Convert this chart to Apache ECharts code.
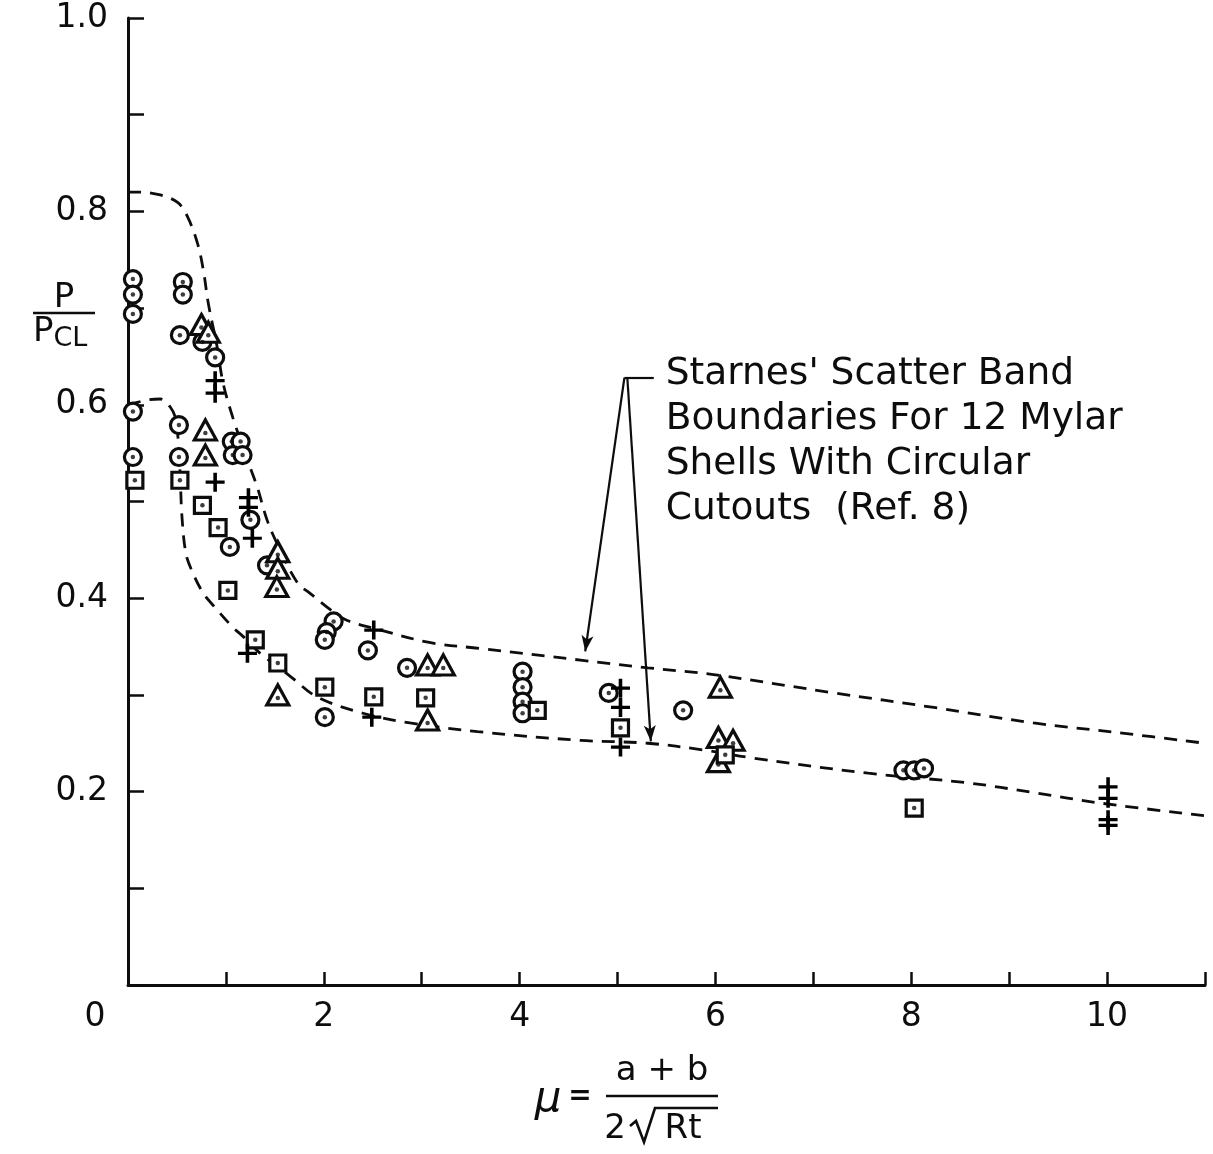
<!DOCTYPE html>
<html><head><meta charset="utf-8">
<script src="https://cdn.jsdelivr.net/npm/echarts@6/dist/echarts.min.js"></script>
<style>html,body{margin:0;padding:0;background:#fff}#c{width:1213px;height:1154px}</style>
</head><body><div id="c"></div>
<script>
// ---- Data ----
const upperX = [0, 0.12, 0.33, 0.51, 0.61, 0.71, 0.77, 0.82, 0.91, 0.97, 1.07, 1.23, 1.32, 1.42, 1.53, 1.73, 1.86, 2.07, 2.24, 2.58, 3.09, 3.60, 4.62, 5.31, 5.98, 7.21, 8.23, 9.25, 10.11, 11.0];
const upperY = [0.820, 0.820, 0.817, 0.809, 0.794, 0.767, 0.739, 0.705, 0.660, 0.623, 0.587, 0.540, 0.515, 0.481, 0.455, 0.416, 0.405, 0.388, 0.377, 0.367, 0.354, 0.348, 0.336, 0.328, 0.321, 0.302, 0.287, 0.271, 0.261, 0.250];
const lowerX = [0, 0.20, 0.33, 0.43, 0.49, 0.53, 0.55, 0.59, 0.65, 0.77, 0.91, 1.07, 1.18, 1.35, 1.66, 1.93, 2.40, 2.88, 3.57, 4.62, 5.31, 5.88, 6.36, 7.56, 8.58, 9.25, 9.94, 11.0];
const lowerY = [0.600, 0.605, 0.606, 0.598, 0.584, 0.533, 0.486, 0.447, 0.429, 0.405, 0.388, 0.370, 0.360, 0.343, 0.319, 0.298, 0.281, 0.271, 0.262, 0.253, 0.250, 0.243, 0.235, 0.219, 0.209, 0.199, 0.188, 0.175];

const circleX = [0.05, 0.05, 0.05, 0.05, 0.05, 0.56, 0.56, 0.53, 0.76, 0.89, 0.52, 0.52, 1.06, 1.15, 1.07, 1.17, 1.25, 1.04, 1.42, 2.10, 2.03, 2.01, 2.45, 2.85, 2.01, 4.03, 4.03, 4.03, 4.03, 4.91, 5.67, 7.92, 8.03, 8.13];
const circleY = [0.730, 0.714, 0.694, 0.593, 0.546, 0.727, 0.714, 0.672, 0.665, 0.649, 0.579, 0.546, 0.562, 0.562, 0.548, 0.548, 0.481, 0.453, 0.434, 0.376, 0.365, 0.357, 0.346, 0.328, 0.277, 0.324, 0.308, 0.293, 0.281, 0.302, 0.284, 0.222, 0.222, 0.224];

const triX = [0.75, 0.82, 0.79, 0.79, 1.53, 1.53, 1.52, 1.53, 3.06, 3.22, 3.06, 6.05, 6.03, 6.18, 6.03];
const triY = [0.683, 0.675, 0.574, 0.548, 0.448, 0.431, 0.412, 0.300, 0.331, 0.331, 0.274, 0.308, 0.256, 0.253, 0.231];

const squareX = [0.07, 0.53, 0.76, 0.92, 1.02, 1.30, 1.53, 2.01, 2.51, 3.04, 4.18, 5.03, 6.10, 8.03];
const squareY = [0.522, 0.522, 0.496, 0.473, 0.408, 0.357, 0.333, 0.308, 0.298, 0.297, 0.284, 0.266, 0.238, 0.183];

const plusX = [0.89, 0.89, 0.89, 1.23, 1.23, 1.27, 1.22, 2.51, 2.49, 5.03, 5.03, 5.03, 10.01, 10.01, 10.01, 10.01];
const plusY = [0.625, 0.612, 0.520, 0.504, 0.494, 0.462, 0.343, 0.367, 0.277, 0.307, 0.287, 0.246, 0.205, 0.193, 0.171, 0.165];

const xTickLabels = {0: '0', 2: '2', 4: '4', 6: '6', 8: '8', 10: '10'};
const yTickLabels = {0.2: '0.2', 0.4: '0.4', 0.6: '0.6', 0.8: '0.8', 1: '1.0'};

const noteLines = ["Starnes' Scatter Band", "Boundaries For 12 Mylar", "Shells With Circular", "Cutouts  (Ref. 8)"];
// annotation leader lines in data coordinates: [corner, arrow tip]
const noteCorner = [5.07, 0.628];
const noteEnd = [5.37, 0.628];
const noteTips = [[4.67, 0.345], [5.34, 0.252]];

// ---- Build ----
const zip = (a, b) => a.map((v, i) => [v, b[i]]);
const INK = '#0d0d0d';
const FONT = 'DejaVu Sans';
const plusPath = 'path://M-1.7,-10 L1.7,-10 L1.7,10 L-1.7,10 Z M-9,-1.7 L9,-1.7 L9,1.7 L-9,1.7 Z';

const chart = echarts.init(document.getElementById('c'), null, {renderer: 'canvas'});

const dashLine = {type: [13, 9], color: INK, width: 2.8};

const option = {
  backgroundColor: '#fff',
  animation: false,
  grid: {left: 128, right: 8, top: 18, bottom: 169, containLabel: false, outerBoundsMode: 'none'},
  xAxis: {
    type: 'value', min: 0, max: 11, interval: 1,
    axisLine: {show: true, onZero: false, lineStyle: {color: INK, width: 3}},
    axisTick: {show: true, inside: true, length: 13, lineStyle: {color: INK, width: 2.5}},
    splitLine: {show: false},
    axisLabel: {
      show: true, margin: 16, color: INK, fontFamily: FONT, fontSize: 33,
      showMinLabel: true, showMaxLabel: true,
      formatter: v => v === 0 ? '{z|0}' : (xTickLabels[v] || ''),
      rich: {z: {fontFamily: FONT, fontSize: 33, color: INK, padding: [0, 66, 0, 0]}}
    }
  },
  yAxis: {
    type: 'value', min: 0, max: 1, interval: 0.1,
    axisLine: {show: true, onZero: false, lineStyle: {color: INK, width: 3}},
    axisTick: {show: true, inside: true, length: 16, lineStyle: {color: INK, width: 2.5}},
    splitLine: {show: false},
    axisLabel: {
      show: true, margin: 20, color: INK, fontFamily: FONT, fontSize: 33,
      formatter: v => {
        const k = Math.round(v * 10) / 10;
        return yTickLabels[k] || '';
      }
    }
  },
  series: [
    {type: 'line', name: 'upper', data: zip(upperX, upperY), smooth: 0.35, showSymbol: false, symbol: 'none', lineStyle: dashLine, z: 2},
    {type: 'line', name: 'lower', data: zip(lowerX, lowerY), smooth: 0.35, showSymbol: false, symbol: 'none', lineStyle: dashLine, z: 2},
    {type: 'scatter', name: 'circle', data: zip(circleX, circleY), symbol: 'circle', symbolSize: 17,
      itemStyle: {color: '#fff', borderColor: INK, borderWidth: 3.2, opacity: 1}, z: 5},
    {type: 'scatter', name: 'triangle', data: zip(triX, triY), symbol: 'triangle', symbolSize: [22, 20],
      itemStyle: {color: '#fff', borderColor: INK, borderWidth: 3.2, opacity: 1}, z: 5},
    {type: 'scatter', name: 'square', data: zip(squareX, squareY), symbol: 'rect', symbolSize: 16,
      itemStyle: {color: '#fff', borderColor: INK, borderWidth: 3.2, opacity: 1}, z: 5},
    {type: 'scatter', name: 'dots', data: zip(circleX.concat(squareX), circleY.concat(squareY)), symbol: 'circle', symbolSize: 4.5,
      itemStyle: {color: INK}, z: 6, silent: true},
    {type: 'scatter', name: 'triDots', data: zip(triX, triY), symbol: 'circle', symbolSize: 4.5, symbolOffset: [0, 3],
      itemStyle: {color: INK}, z: 6, silent: true},
    {type: 'scatter', name: 'plus', data: zip(plusX, plusY), symbol: plusPath, symbolSize: 19,
      itemStyle: {color: '#000', opacity: 1}, z: 6},
    {type: 'line', name: 'notes', data: [], z: 7,
      markLine: {
        silent: true, animation: false,
        symbol: ['none', 'arrow'], symbolSize: [9, 16],
        label: {show: false},
        lineStyle: {color: INK, width: 2.2, type: 'solid'},
        data: [
          [{coord: noteCorner}, {coord: noteTips[0]}],
          [{coord: [noteCorner[0] + 0.03, noteCorner[1]]}, {coord: noteTips[1]}],
          [{coord: noteCorner, symbol: 'none'}, {coord: noteEnd, symbol: 'none'}]
        ]
      }
    }
  ]
};
chart.setOption(option);

// Text annotations and axis titles
const cornerPx = chart.convertToPixel({gridIndex: 0}, noteEnd);
const graphics = [];
noteLines.forEach((t, i) => {
  graphics.push({type: 'text', left: cornerPx[0] + 12, top: cornerPx[1] - 22 + i * 45,
    style: {text: t, fontFamily: FONT, fontSize: 37.5, fill: INK}});
});
// y-axis title: P / P_CL
graphics.push({type: 'text', x: 64, y: 298, style: {text: 'P', fontFamily: FONT, fontSize: 34, fill: INK, align: 'center', verticalAlign: 'middle'}});
graphics.push({type: 'line', shape: {x1: 33, y1: 313, x2: 95, y2: 313}, style: {stroke: INK, lineWidth: 2.6}});
graphics.push({type: 'text', x: 33, y: 332, style: {rich: {p: {fontFamily: FONT, fontSize: 34, fill: INK}, s: {fontFamily: FONT, fontSize: 27, fill: INK, padding: [14, 0, 0, 0]}}, text: '{p|P}{s|CL}', verticalAlign: 'middle'}});
// x-axis title: mu = (a+b) / (2 sqrt(Rt))
graphics.push({type: 'text', x: 548, y: 1100, style: {text: 'μ', fontFamily: FONT, fontSize: 42, fontStyle: 'italic', fill: INK, align: 'center', verticalAlign: 'middle'}});
graphics.push({type: 'text', x: 580, y: 1097, style: {text: '=', fontFamily: FONT, fontSize: 28, fontWeight: 'bold', fill: INK, align: 'center', verticalAlign: 'middle'}});
graphics.push({type: 'text', x: 662, y: 1071, style: {text: 'a + b', fontFamily: FONT, fontSize: 34, fill: INK, align: 'center', verticalAlign: 'middle'}});
graphics.push({type: 'line', shape: {x1: 606, y1: 1096, x2: 718, y2: 1096}, style: {stroke: INK, lineWidth: 2.6}});
graphics.push({type: 'text', x: 615, y: 1129, style: {text: '2', fontFamily: FONT, fontSize: 34, fill: INK, align: 'center', verticalAlign: 'middle'}});
graphics.push({type: 'polyline', shape: {points: [[630, 1126], [636, 1121], [644, 1142], [655, 1108], [718, 1108]]}, style: {stroke: INK, lineWidth: 2.6, fill: null}});
graphics.push({type: 'text', x: 683, y: 1129, style: {text: 'Rt', fontFamily: FONT, fontSize: 34, fill: INK, align: 'center', verticalAlign: 'middle'}});
chart.setOption({graphic: graphics});
</script></body></html>
